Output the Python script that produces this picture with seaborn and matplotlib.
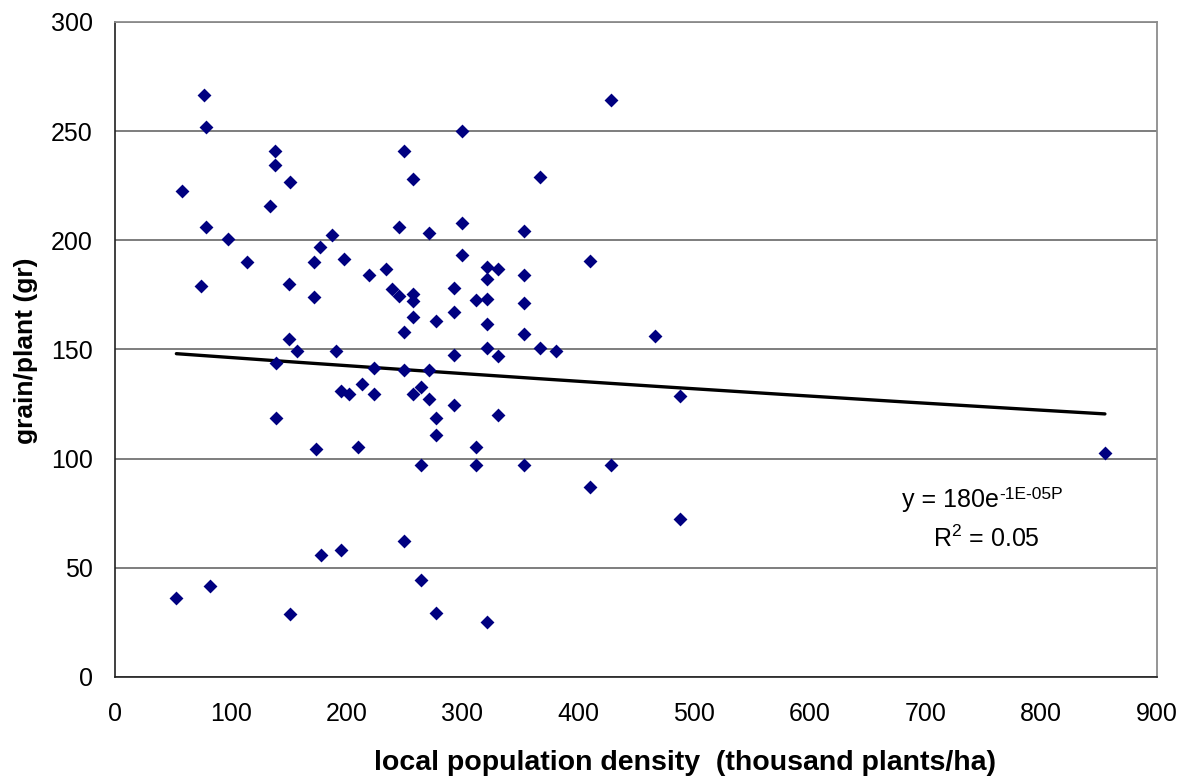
import numpy as np
import pandas as pd
import matplotlib
matplotlib.use("Agg")
import matplotlib.pyplot as plt
import seaborn as sns

# densidade local (mil plantas/ha) e grão por planta (g)
densidade = [53, 58, 74, 77, 79, 79, 82, 98, 114, 134, 138, 138, 139, 139,
             150, 150, 151, 151, 157, 172, 172, 174, 177, 178, 187, 191, 195,
             195, 198, 202, 210, 213, 219, 224, 224, 234, 239, 245, 245, 250,
             250, 250, 250, 257, 257, 257, 257, 257, 264, 264, 264, 271, 271,
             271, 277, 277, 277, 277, 293, 293, 293, 293, 300, 300, 300, 312,
             312, 312, 321, 321, 321, 321, 321, 321, 331, 331, 331, 353, 353,
             353, 353, 353, 367, 367, 381, 410, 410, 428, 428, 466, 488, 488,
             855]
grao = [36, 222.5, 179, 266.5, 252, 206, 41.5, 200.5, 190, 215.5, 241, 234.5,
        144, 118.5, 180, 155, 226.5, 29, 149.5, 190, 174, 104.5, 197, 56,
        202.5, 149.5, 131, 58, 191.5, 129.5, 105.5, 134, 184, 141.5, 129.5,
        187, 177.5, 206, 174.5, 241, 158, 140.5, 62.5, 228, 175.5, 172, 165,
        129.5, 133, 97, 44.5, 203.5, 140.5, 127.5, 163, 118.5, 111, 29.5, 178,
        167, 147.5, 124.5, 250, 208, 193.5, 172.5, 105.5, 97, 188, 182.5, 173,
        161.5, 150.5, 25, 187, 147, 120, 204.5, 184, 171.5, 157, 97, 229,
        150.5, 149.5, 190.5, 87, 264.5, 97, 156, 128.5, 72.5, 102.5]

texto_equacao = "y = 180e"
texto_expoente = "-1E-05P"
texto_r2 = r"R$^{\mathregular{2}}$ = 0.05"

df = pd.DataFrame({"densidade": densidade, "grao": grao})

sns.set_style("white")
plt.rcParams["font.family"] = ["Liberation Sans", "DejaVu Sans"]
plt.rcParams["mathtext.fontset"] = "custom"
plt.rcParams["mathtext.rm"] = "Liberation Sans"
for chave in ["text.color", "axes.labelcolor", "xtick.color", "ytick.color"]:
    plt.rcParams[chave] = "black"

fig = plt.figure(figsize=(11.84, 7.80), dpi=100)
ax = fig.add_axes([115 / 1184, 1 - 677 / 780, (1157 - 115) / 1184, (677 - 22) / 780])

# linha de tendência exponencial (regressão em ln y, como no Excel)
b, ln_a = np.polyfit(df["densidade"], np.log(df["grao"]), 1)
xs = np.linspace(df["densidade"].min(), df["densidade"].max(), 200)
ax.plot(xs, np.exp(ln_a) * np.exp(b * xs), color="black", lw=2.4, zorder=3)

sns.scatterplot(data=df, x="densidade", y="grao", marker="D", s=50,
                color="#000080", linewidth=0, ax=ax, zorder=4)

ax.set_xlim(0, 900)
ax.set_ylim(0, 300)
ax.set_xticks(range(0, 901, 100))
ax.set_yticks(range(0, 301, 50))
ax.yaxis.grid(True, color="#5a5a5a", lw=1.1)
ax.set_axisbelow(True)

for lado in ["top", "right"]:
    ax.spines[lado].set_color("#8c8c8c")
    ax.spines[lado].set_linewidth(1.3)
for lado in ["left", "bottom"]:
    ax.spines[lado].set_color("#202020")
    ax.spines[lado].set_linewidth(1.2)

ax.tick_params(axis="both", labelsize=18, length=7, width=1, color="#202020",
               direction="out")
ax.tick_params(axis="x", pad=11)
ax.tick_params(axis="y", pad=9)

ax.set_xlabel("local population density  (thousand plants/ha)", fontsize=20.5,
              fontweight="bold")
ax.set_ylabel("grain/plant (gr)", fontsize=19, fontweight="bold")
ax.xaxis.set_label_coords(0.547, -0.112)
ax.yaxis.set_label_coords(-0.074, 0.498)

t1 = ax.text(679.8, 77.9, texto_equacao, fontsize=18, ha="left", va="baseline")
ax.annotate(texto_expoente, xy=(1, 0.55), xycoords=t1, fontsize=12.5,
            ha="left", va="baseline")
ax.text(752.3, 59.5, texto_r2, fontsize=18, ha="center", va="baseline")

fig.savefig("out.png", dpi=100)
